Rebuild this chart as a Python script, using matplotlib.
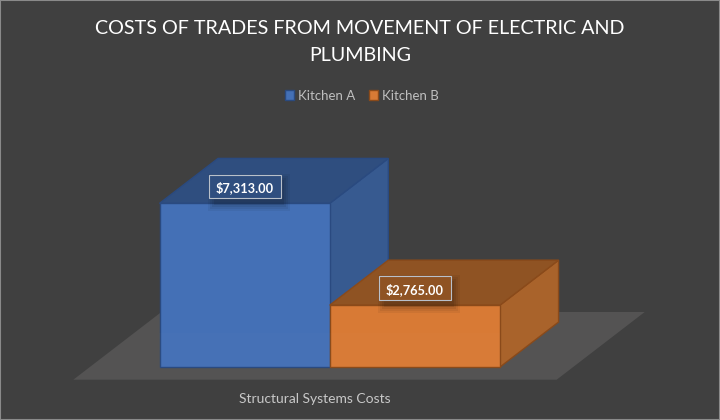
import matplotlib
matplotlib.use("Agg")
import matplotlib.pyplot as plt
from matplotlib.patches import Polygon, Patch, Rectangle

categories = ["Structural Systems Costs"]
series = ["Kitchen A", "Kitchen B"]
values = [7313.0, 2765.0]
labels = ["$7,313.00", "$2,765.00"]
front_colors = ["#4470B6", "#D87A35"]
side_colors = ["#375A90", "#A9632B"]
top_colors = ["#2F4E7F", "#8F5323"]
edge_colors = ["#2A4A80", "#8A4A1A"]
BG = "#404040"
FONT = "Lato"

W, H = 720, 420
L, R, B, T = 159.5, 500.0, 367.0, 188.0   # axes box in pixels
fig = plt.figure(figsize=(W / 100, H / 100), dpi=100, facecolor=BG)
ax = fig.add_axes([L / W, 1 - B / H, (R - L) / W, (B - T) / H])
ax.set_facecolor("none")
ax.set_xlim(0, 2)
ax.set_ylim(0, 8000)
for s in ax.spines.values():
    s.set_visible(False)
ax.set_yticks([])
ax.set_xticks([0.912])
ax.set_xticklabels(categories, color="#C8C8C8", fontsize=10, family=FONT)
ax.tick_params(axis="x", length=0, pad=18.5)

DX, DY = 0.344, 2010.0  # oblique depth of the boxes
PX_X = 2 / (R - L)      # data units per pixel
PX_Y = 8000 / (B - T)


def poly(pts, **kw):
    ax.add_patch(Polygon(pts, closed=True, clip_on=False, **kw))


# floor
fx0, fx1, fy0, fdx, fdy = -0.506, 2.333, -567.0, 0.517, 3025.0
poly([(fx0, fy0), (fx1, fy0), (fx1 + fdx, fy0 + fdy), (fx0 + fdx, fy0 + fdy)],
     facecolor="#545353", edgecolor="none", zorder=1)

# boxes
for i, v in enumerate(values):
    z = 2 + i
    x0, x1 = i, i + 1
    kw = dict(edgecolor=edge_colors[i], linewidth=1.0, zorder=z)
    poly([(x1, 0), (x1 + DX, DY), (x1 + DX, v + DY), (x1, v)], facecolor=side_colors[i], **kw)
    poly([(x0, v), (x1, v), (x1 + DX, v + DY), (x0 + DX, v + DY)], facecolor=top_colors[i], **kw)
    poly([(x0, 0), (x1, 0), (x1, v), (x0, v)], facecolor=front_colors[i], **kw)

# the floor shows faintly through the front faces
poly([(0, 0), (2, 0), (2, 1500), (fx0 + fdx * 0.97, 1500)][:4], facecolor="#FFFFFF", edgecolor="none",
     alpha=0.012, zorder=4)

# data labels with soft shadow (drawn as plain patches)
box_w, box_h = 72 * PX_X, 23.5 * PX_Y
for i, (v, lab) in enumerate(zip(values, labels)):
    cx, cy = i + 0.5, v + 17 * PX_Y
    for grow, a in zip((7, 5, 3, 1), (0.05, 0.06, 0.07, 0.08)):
        ax.add_patch(Rectangle((cx - box_w / 2 + (6 - grow) * PX_X, cy - box_h / 2 - (6 + grow) * PX_Y),
                               box_w + 2 * grow * PX_X - 4 * PX_X, box_h + 2 * grow * PX_Y,
                               fc="black", ec="none", alpha=a, zorder=8, clip_on=False))
    ax.add_patch(Rectangle((cx - box_w / 2, cy - box_h / 2), box_w, box_h, fc=top_colors[i],
                           ec="#B9C0CA", lw=0.8, zorder=9, clip_on=False))
    ax.text(cx, cy, lab, ha="center", va="center_baseline", fontsize=9.2, color="white", weight="bold",
            family=FONT, zorder=10, clip_on=False)

# legend
handles = [Patch(facecolor=c, edgecolor=e, label=s) for c, e, s in zip(front_colors, edge_colors, series)]
fig.legend(handles=handles, loc="center", bbox_to_anchor=(362 / W, 1 - 96 / H), ncol=2, frameon=False,
           prop={"family": FONT, "size": 9.5}, labelcolor="#BFBFBF", handlelength=0.7, handleheight=0.8,
           handletextpad=0.3, columnspacing=1.05, borderpad=0)

# title
fig.text(0.5, 1 - 42 / H, "COSTS OF TRADES FROM MOVEMENT OF ELECTRIC AND\nPLUMBING", ha="center", va="center",
         color="white", fontsize=14.2, family=FONT, linespacing=1.73)

# outer border
fig.add_artist(Rectangle((0, 0), 1, 1, transform=fig.transFigure, fill=False, ec="#8A8A8A", lw=1.5))

fig.savefig("out.png", dpi=100, facecolor=BG)
